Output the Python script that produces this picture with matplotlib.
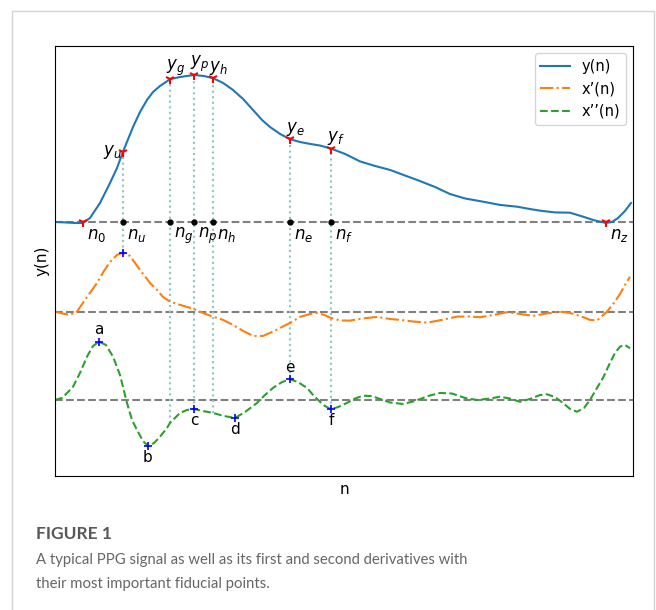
import matplotlib.pyplot as plt
from matplotlib.patches import Rectangle
import numpy as np

# PPG pulse y(n): sample index and amplitude (baseline = 0, systolic peak = 1)
y_n = [0, 5, 10, 14, 17.5, 22.5, 27.5, 31, 34, 39, 42.5, 46, 49, 52.5, 57.5, 62.5,
       69.5, 74.5, 79, 84, 89, 94, 99, 103.5, 107.5, 112.5, 117.5, 122.5, 127.5,
       132.5, 138, 145, 152.5, 160, 167.5, 175, 181, 190, 197.5, 205, 214, 222.5,
       231, 237.5, 242.5, 250, 257.5, 264, 270, 275.5, 278.5, 281.5, 285, 288]
y_val = [0.0, -0.003, -0.007, -0.007, 0.027, 0.129, 0.265, 0.367, 0.478, 0.646,
         0.748, 0.830, 0.884, 0.925, 0.971, 0.986, 1.0, 0.993, 0.978, 0.946, 0.898,
         0.837, 0.762, 0.694, 0.646, 0.599, 0.563, 0.544, 0.531, 0.520, 0.499,
         0.463, 0.412, 0.381, 0.354, 0.316, 0.286, 0.238, 0.190, 0.160, 0.138,
         0.116, 0.104, 0.088, 0.077, 0.065, 0.063, 0.036, 0.010, -0.007, 0.0,
         0.027, 0.075, 0.129]

# first derivative x'(n)
d1_n = [0, 3.5, 7.5, 11, 15, 21, 24.5, 27.5, 31, 34, 37.5, 42.5, 47.5, 51, 54, 57.5,
        62.5, 69.5, 74.5, 79, 84, 89, 94, 99, 104, 109, 113.5, 117.5, 122.5, 127.5,
        131, 134.5, 138, 142.5, 147.5, 154, 161, 167.5, 172.5, 179, 186, 193.5, 201,
        207.5, 212.5, 219.5, 226, 232.5, 239, 246, 252.5, 257.5, 262.5, 267.5, 271,
        276, 279.5, 282.5, 285, 287.5]
d1_val = [0.002, -0.010, -0.020, 0.002, 0.082, 0.197, 0.279, 0.340, 0.388, 0.403,
          0.381, 0.286, 0.197, 0.150, 0.102, 0.070, 0.048, 0.020, -0.010, -0.032,
          -0.054, -0.088, -0.129, -0.163, -0.163, -0.134, -0.102, -0.075, -0.034,
          -0.014, -0.007, -0.020, -0.041, -0.058, -0.059, -0.044, -0.034, -0.048,
          -0.054, -0.065, -0.073, -0.054, -0.032, -0.031, -0.036, -0.020, -0.002,
          -0.014, -0.027, -0.010, 0.002, -0.007, -0.027, -0.054, -0.058, 0.002,
          0.061, 0.122, 0.184, 0.240]

# second derivative x''(n)
d2_n = [0, 3.5, 6.5, 9, 12.5, 16, 19, 22, 25.5, 29, 32.5, 36, 38.5, 41, 44, 46.5,
        49.5, 52.5, 56, 57.5, 59, 62.5, 66, 69.5, 74, 79, 84.5, 90, 95, 101, 105,
        109, 113.5, 117.5, 121.5, 126, 129.5, 132.5, 135, 138, 141.5, 146, 150, 154,
        158.5, 162.5, 167.5, 174, 180, 186.5, 192.5, 198.5, 205, 211, 217.5, 222.5,
        227.5, 232.5, 237.5, 242.5, 246, 250, 254, 257.5, 261, 264.5, 267.5, 271,
        274, 277, 280, 282.5, 285, 287.5]
d2_val = [0.0, 0.014, 0.054, 0.090, 0.184, 0.295, 0.367, 0.397, 0.374, 0.295, 0.170,
          -0.020, -0.136, -0.204, -0.279, -0.313, -0.293, -0.250, -0.190, -0.156,
          -0.136, -0.088, -0.068, -0.061, -0.075, -0.088, -0.109, -0.122, -0.082,
          -0.020, 0.034, 0.082, 0.122, 0.141, 0.122, 0.082, 0.027, -0.012, -0.041,
          -0.063, -0.048, -0.020, 0.010, 0.029, 0.027, 0.007, -0.017, -0.027, -0.007,
          0.027, 0.048, 0.044, 0.014, 0.0, 0.010, 0.022, 0.010, -0.012, 0.007, 0.034,
          0.039, 0.020, -0.020, -0.061, -0.080, -0.054, 0.0, 0.082, 0.150, 0.238,
          0.320, 0.363, 0.374, 0.352]

# fiducial points on y(n)
y_fid_names = ['0', 'u', 'g', 'p', 'h', 'e', 'f', 'z']
y_fid_n = [14, 34, 57.5, 69.5, 79, 117.5, 138, 275.5]

# fiducial points on x''(n)
d2_fid_names = ['a', 'b', 'c', 'd', 'e', 'f']
d2_fid_n = [22, 46.5, 69.5, 90, 117.5, 138]
d2_fid_below = [False, True, True, True, False, True]

off1 = -0.612   # vertical offset of x'(n)
off2 = -1.211   # vertical offset of x''(n)

y_n, y_val = np.array(y_n), np.array(y_val)
d1_n, d1_val = np.array(d1_n), np.array(d1_val) + off1
d2_n, d2_val = np.array(d2_n), np.array(d2_val) + off2


def at(n_arr, v_arr, k):
    return v_arr[np.argmin(np.abs(n_arr - k))]


fig = plt.figure(figsize=(6.56, 6.10), dpi=100)
fig.patches.append(Rectangle((12 / 656, -0.1), 642 / 656, 1.082, transform=fig.transFigure,
                             fill=False, edgecolor='#d4d4d4', lw=1.0))
ax = fig.add_axes([55 / 656, 134 / 610, 578 / 656, 430 / 610])

ax.plot(y_n, y_val, color='C0', lw=1.5, label='y(n)')
ax.plot(d1_n, d1_val, color='C1', lw=1.5, ls='-.', label='x’(n)')
ax.plot(d2_n, d2_val, color='C2', lw=1.5, ls='--', label='x’’(n)')
for base in [0, off1, off2]:
    ax.axhline(base, color='gray', ls='--', lw=1.5, zorder=1)

vcol = '#8cc6c6'
for name, k in zip(y_fid_names, y_fid_n):
    yv = at(y_n, y_val, k)
    if name in ('0', 'z'):
        ax.plot(k, 0, marker='1', color='red', ms=7, mew=1.5, zorder=5)
    else:
        low = at(d1_n, d1_val, k) if name == 'u' else at(d2_n, d2_val, k)
        ax.plot([k, k], [low, yv], color=vcol, ls=':', lw=1.5, zorder=1)
        ax.plot(k, yv, marker='1', color='red', ms=7, mew=1.5, zorder=5)
        ax.plot(k, 0, 'o', color='black', ms=3.5, zorder=5)
        if name == 'u':
            ax.annotate('$y_u$', (k, yv), xytext=(-1, 0), textcoords='offset points',
                        ha='right', va='center', fontsize=12)
        else:
            ax.annotate('$y_%s$' % name, (k, yv), xytext=(-3, 1), textcoords='offset points',
                        ha='left', va='bottom', fontsize=12)
    ax.annotate('$n_%s$' % name, (k, 0), xytext=(3, -3), textcoords='offset points',
                ha='left', va='top', fontsize=12)

k = y_fid_n[1]
ax.plot(k, at(d1_n, d1_val, k), marker='+', color='blue', ms=6, mew=1.2, zorder=5)
for name, k, below in zip(d2_fid_names, d2_fid_n, d2_fid_below):
    v = at(d2_n, d2_val, k)
    ax.plot(k, v, marker='+', color='blue', ms=6, mew=1.2, zorder=5)
    ax.annotate(name, (k, v), xytext=(0, -3 if below else 3), textcoords='offset points',
                ha='center', va='top' if below else 'bottom', fontsize=11)

ax.set_xlim(0, 289)
ax.set_ylim(-1.728, 1.197)
ax.set_xticks([])
ax.set_yticks([])
ax.set_xlabel('n', fontsize=11)
ax.set_ylabel('y(n)', fontsize=11)
ax.legend(loc='upper right', fontsize=10.5)

fig.text(36 / 656, 1 - 539 / 610, 'FIGURE 1', family='Lato', weight='bold',
         fontsize=12.5, color='#585858')
fig.text(36 / 656, 1 - 564 / 610, 'A typical PPG signal as well as its first and second derivatives with',
         family='Lato', fontsize=10.7, color='#666666')
fig.text(36 / 656, 1 - 588 / 610, 'their most important fiducial points.',
         family='Lato', fontsize=10.7, color='#666666')

fig.savefig('out.png', dpi=100)
